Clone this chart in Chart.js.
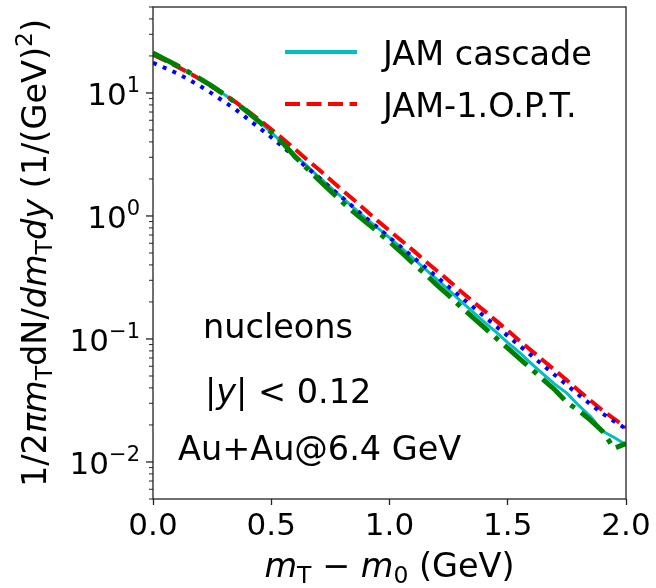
<!DOCTYPE html>
<html>
<head>
<meta charset="utf-8">
<script src="https://cdn.jsdelivr.net/npm/chart.js@4.4.1/dist/chart.umd.min.js"></script>
<style>
  html, body { margin: 0; padding: 0; background: #fff; }
  canvas { display: block; }
</style>
</head>
<body>
<canvas id="spectrum" width="656" height="588"></canvas>
<script>
// m_T - m_0 bins (GeV)
const mt = [0.00, 0.05, 0.10, 0.15, 0.20, 0.25, 0.30, 0.35, 0.40, 0.45,
            0.50, 0.55, 0.60, 0.65, 0.70, 0.75, 0.80, 0.85, 0.90, 0.95,
            1.00, 1.05, 1.10, 1.15, 1.20, 1.25, 1.30, 1.35, 1.40, 1.45,
            1.50, 1.55, 1.60, 1.65, 1.70, 1.75, 1.80, 1.85, 1.90, 1.95, 2.00];

// JAM cascade (cyan, solid)
const jamCascade = [21.1, 18.8, 16.8, 14.8, 13.0, 11.35, 9.77, 8.32, 7.00, 5.82,
                    4.79, 3.89, 3.13, 2.57, 2.09, 1.72, 1.41, 1.16, 0.955, 0.800,
                    0.668, 0.550, 0.452, 0.372, 0.305, 0.251, 0.204, 0.168, 0.138, 0.114,
                    0.0933, 0.0776, 0.0631, 0.0519, 0.0427, 0.0363, 0.0288, 0.0234, 0.0178, 0.0158, 0.0138];

// JAM-1.O.P.T. (red, dashed)
const jamOpt = [20.4, 18.4, 16.4, 14.6, 12.9, 11.2, 9.77, 8.41, 7.16, 6.03,
                5.07, 4.22, 3.51, 2.88, 2.40, 1.97, 1.62, 1.35, 1.11, 0.912,
                0.759, 0.631, 0.525, 0.432, 0.359, 0.299, 0.245, 0.204, 0.170, 0.141,
                0.117, 0.0966, 0.0804, 0.0668, 0.0556, 0.0462, 0.0380, 0.0316, 0.0263, 0.0224, 0.0191];

// blue, dotted (no legend entry)
const blueDotted = [17.6, 16.0, 14.5, 12.9, 11.35, 9.89, 8.51, 7.33, 6.17, 5.19,
                    4.37, 3.63, 3.02, 2.48, 2.07, 1.70, 1.41, 1.17, 0.966, 0.804,
                    0.668, 0.556, 0.462, 0.385, 0.320, 0.266, 0.221, 0.184, 0.153, 0.127,
                    0.106, 0.0881, 0.0733, 0.0610, 0.0507, 0.0422, 0.0351, 0.0295, 0.0248, 0.0214, 0.0186];

// green, dash-dot (no legend entry)
const greenDashDot = [21.1, 18.8, 16.8, 14.8, 13.0, 11.35, 9.77, 8.32, 7.00, 5.82,
                      4.79, 3.89, 3.05, 2.45, 1.97, 1.60, 1.30, 1.07, 0.891, 0.745,
                      0.617, 0.507, 0.412, 0.339, 0.275, 0.226, 0.184, 0.151, 0.124, 0.102,
                      0.0841, 0.0692, 0.0569, 0.0468, 0.0385, 0.0305, 0.0262, 0.0219, 0.0178, 0.0129, 0.0141];

const xTicks = [0.0, 0.5, 1.0, 1.5, 2.0];
const yDecades = [0.01, 0.1, 1, 10];
const yExponents = ['\u22122', '\u22121', '0', '1'];

const FONT = '"DejaVu Sans", sans-serif';

function pts(arr) {
  return mt.map((x, i) => ({ x: x, y: arr[i] }));
}

// draw a run of text pieces (mathtext-like)
function drawRun(ctx, segs, x, y, align) {
  let total = 0;
  segs.forEach(s => {
    ctx.font = (s.it ? 'italic ' : '') + s.size + 'px ' + FONT;
    s.w = ctx.measureText(s.t).width;
    total += s.w;
  });
  let cx = x;
  if (align === 'center') cx = x - total / 2;
  if (align === 'right') cx = x - total;
  ctx.textAlign = 'left';
  ctx.textBaseline = 'alphabetic';
  segs.forEach(s => {
    ctx.font = (s.it ? 'italic ' : '') + s.size + 'px ' + FONT;
    ctx.fillText(s.t, cx, y + (s.dy || 0));
    cx += s.w;
  });
}

const decor = {
  id: 'decor',
  afterDraw(chart) {
    const ctx = chart.ctx;
    const a = chart.chartArea;
    const ys = chart.scales.y;
    ctx.save();
    ctx.fillStyle = '#000';
    ctx.strokeStyle = '#222';
    ctx.lineWidth = 1.3;

    // frame
    ctx.strokeRect(a.left, a.top, a.right - a.left, a.bottom - a.top);

    // y ticks, major + minor
    yDecades.forEach((d, i) => {
      const py = ys.getPixelForValue(d);
      ctx.beginPath();
      ctx.moveTo(a.left - 7, py);
      ctx.lineTo(a.left, py);
      ctx.stroke();
      drawRun(ctx, [
        { t: '10', size: 31 },
        { t: yExponents[i], size: 21, dy: -13 }
      ], a.left - 13, py + 12, 'right');
    });
    ctx.lineWidth = 1;
    [0.001, 0.01, 0.1, 1, 10].forEach(d => {
      for (let k = 2; k <= 9; k++) {
        const v = d * k;
        if (v < ys.min || v > ys.max) continue;
        const py = ys.getPixelForValue(v);
        ctx.beginPath();
        ctx.moveTo(a.left - 4, py);
        ctx.lineTo(a.left, py);
        ctx.stroke();
      }
    });

    // axis titles
    drawRun(ctx, [
      { t: 'm', it: true, size: 33.5 },
      { t: 'T', size: 23.5, dy: 6 },
      { t: ' \u2212 ', size: 33.5 },
      { t: 'm', it: true, size: 33.5 },
      { t: '0', size: 23.5, dy: 6 },
      { t: ' (GeV)', size: 33.5 }
    ], (a.left + a.right) / 2, 577, 'center');

    ctx.save();
    ctx.translate(46, (a.top + a.bottom) / 2);
    ctx.rotate(-Math.PI / 2);
    drawRun(ctx, [
      { t: '1/2', size: 33.5 },
      { t: '\u03c0m', it: true, size: 33.5 },
      { t: 'T', size: 23.5, dy: 6 },
      { t: 'dN/', size: 33.5 },
      { t: 'dm', it: true, size: 33.5 },
      { t: 'T', size: 23.5, dy: 6 },
      { t: 'dy', it: true, size: 33.5 },
      { t: ' (1/(GeV)', size: 33.5 },
      { t: '2', size: 23.5, dy: -14 },
      { t: ')', size: 33.5 }
    ], 0, 0, 'center');
    ctx.restore();

    // annotations
    drawRun(ctx, [{ t: 'nucleons', size: 33.5 }], 203, 338, 'left');
    drawRun(ctx, [
      { t: '|', size: 33.5 },
      { t: 'y', it: true, size: 33.5 },
      { t: '| < 0.12', size: 33.5 }
    ], 205, 403, 'left');
    drawRun(ctx, [{ t: 'Au+Au@6.4 GeV', size: 33.5 }], 178, 460, 'left');

    // legend
    const legend = [
      { label: 'JAM cascade', color: '#00bfbf', dash: [], y: 52 },
      { label: 'JAM-1.O.P.T.', color: '#ff0000', dash: [15, 6.5], y: 104 }
    ];
    legend.forEach(l => {
      ctx.strokeStyle = l.color;
      ctx.lineWidth = 4;
      ctx.setLineDash(l.dash);
      ctx.beginPath();
      ctx.moveTo(285, l.y);
      ctx.lineTo(357, l.y);
      ctx.stroke();
      ctx.setLineDash([]);
      drawRun(ctx, [{ t: l.label, size: 33.5 }], 383, l.y + 13, 'left');
    });
    ctx.restore();
  }
};

new Chart(document.getElementById('spectrum'), {
  type: 'line',
  data: {
    datasets: [
      { label: 'green', data: pts(greenDashDot), borderColor: '#008000', borderWidth: 5,
        borderDash: [30, 8, 5, 8], order: 0 },
      { label: 'blue', data: pts(blueDotted), borderColor: '#0000ff', borderWidth: 4,
        borderDash: [4, 6.6], order: 1 },
      { label: 'JAM-1.O.P.T.', data: pts(jamOpt), borderColor: '#ff0000', borderWidth: 4,
        borderDash: [15, 6.5], order: 2 },
      { label: 'JAM cascade', data: pts(jamCascade), borderColor: '#00bfbf', borderWidth: 3,
        order: 3 }
    ]
  },
  options: {
    responsive: false,
    animation: false,
    devicePixelRatio: 1,
    layout: { padding: { left: 0, right: 30, top: 7, bottom: 0 } },
    elements: { point: { radius: 0 }, line: { tension: 0, fill: false } },
    plugins: { legend: { display: false }, tooltip: { enabled: false } },
    scales: {
      x: {
        type: 'linear',
        min: 0,
        max: 2,
        afterBuildTicks: s => { s.ticks = xTicks.map(v => ({ value: v })); },
        afterFit: s => { s.height = 89; },
        ticks: {
          callback: v => v.toFixed(1),
          font: { size: 31, family: FONT },
          color: '#000',
          padding: 3,
          maxRotation: 0,
          autoSkip: false
        },
        grid: { drawOnChartArea: false, tickLength: 6, tickColor: '#222', tickWidth: 1.3 },
        border: { display: false }
      },
      y: {
        type: 'logarithmic',
        min: 0.005,
        max: 50,
        afterFit: s => { s.width = 153; },
        ticks: { display: false },
        grid: { display: false },
        border: { display: false }
      }
    }
  },
  plugins: [decor]
});
</script>
</body>
</html>
